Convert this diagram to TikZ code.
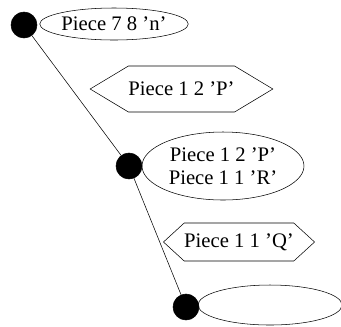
\documentclass[tikz,border=0pt]{standalone}
\usepackage{fontspec}
\setmainfont{Liberation Serif}
\usetikzlibrary{shapes.geometric,shapes.symbols}

\begin{document}
\begin{tikzpicture}[x=0.75pt,y=-0.75pt,
    font=\fontsize{15.5}{17.25}\selectfont,
    dot/.style={circle,fill=black,draw=black,minimum size=19.5pt,inner sep=0pt},
    lab/.style={ellipse,draw=black,inner sep=0pt,align=center},
    hex/.style={signal,signal to=west and east,draw=black,inner sep=0pt}]
                \useasboundingbox (0,0) rectangle (341,326);
                \node (d1) at (24,25) [dot] {};
                \node (d2) at (129,166) [dot] {};
                \node (d3) at (186,307) [dot] {};
                \draw (d1) -- (d2);
                \draw (d2) -- (d3);

                \node (e1) at (114,24) [lab,minimum width=109.5pt,minimum height=24pt] {Piece 7 8 'n'};
                \node (h1) at (181.5,89) [hex,signal pointer angle=62,minimum width=137pt,minimum height=34.5pt] {Piece 1 2 'P'};
                \node (e2) at (223,166) [lab,minimum width=121.5pt,minimum height=51pt] {Piece 1 2 'P'\\Piece 1 1 'R'};
                \node (h2) at (239,242) [hex,signal pointer angle=85,minimum width=109.5pt,minimum height=28.5pt] {Piece 1 1 'Q'};
                \node (e3) at (270,305) [lab,minimum width=108pt,minimum height=30pt] {};
            \end{tikzpicture}
\end{document}
